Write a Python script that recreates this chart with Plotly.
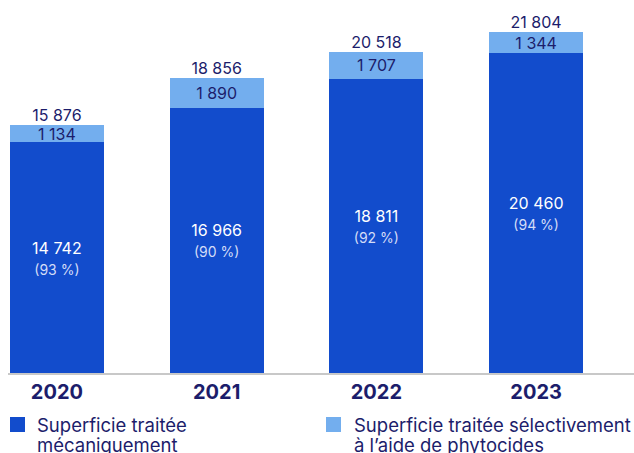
import plotly.graph_objects as go

years = ["2020", "2021", "2022", "2023"]
mecanique = [14742, 16966, 18811, 20460]
phytocides = [1134, 1890, 1707, 1344]
totaux = [15876, 18856, 20518, 21804]
pourcentages = [93, 90, 92, 94]
legend_lines = [
    ["Superficie traitée", "mécaniquement"],
    ["Superficie traitée sélectivement", "à l’aide de phytocides"],
]

DARK = "#124ccc"
LIGHT = "#73aeee"
NAVY = "#1c1d6b"
FONT = "Inter"

W, H = 634, 453
ML, MB = 8, 80
PLOT_W, PLOT_H = W - ML, H - MB

def px_x(px):
    return (px - ML) / PLOT_W

def px_y(py):
    return (PLOT_H - py) / PLOT_H

xpos = list(range(len(years)))

def fmt(v):
    return f"{v:,}".replace(",", "\u00a0")

dark_text = [f"{fmt(v)}<br><span style='font-size:14px;color:#d4dcf7'>({p}\u00a0%)</span>"
             for v, p in zip(mecanique, pourcentages)]
light_text = [fmt(v) for v in phytocides]
total_text = [fmt(v) for v in totaux]

fig = go.Figure()
fig.add_trace(go.Bar(
    x=xpos, y=mecanique, name=" ".join(legend_lines[0]),
    marker=dict(color=DARK, line=dict(width=0)), width=0.5875,
    text=dark_text, textposition="inside", insidetextanchor="middle",
    textangle=0, texttemplate="%{text}", constraintext="none",
    textfont=dict(family=FONT, size=16, color="white"),
    hoverinfo="skip",
))
fig.add_trace(go.Bar(
    x=xpos, y=phytocides, name=" ".join(legend_lines[1]),
    marker=dict(color=LIGHT, line=dict(width=0)), width=0.5875,
    text=light_text, textposition="inside", insidetextanchor="middle",
    textangle=0, texttemplate="%{text}", constraintext="none",
    textfont=dict(family=FONT, size=16, color=NAVY),
    hoverinfo="skip",
))
fig.add_trace(go.Scatter(
    x=xpos, y=totaux, mode="text", text=total_text, textposition="top center",
    textfont=dict(family=FONT, size=16, color=NAVY), showlegend=False,
    hoverinfo="skip",
))

# legend drawn as swatches + text lines (tight line spacing as in reference)
legend_items = [(10, 35, DARK, legend_lines[0]), (326, 352, LIGHT, legend_lines[1])]
for sq_x, tx, col, lines in legend_items:
    fig.add_shape(type="rect", xref="paper", yref="paper",
                  x0=px_x(sq_x), x1=px_x(sq_x + 15), y0=px_y(432), y1=px_y(417),
                  fillcolor=col, line=dict(width=0))
    for i, line in enumerate(lines):
        fig.add_annotation(xref="paper", yref="paper", x=px_x(tx), y=px_y(424.5 + 20 * i),
                           xanchor="left", yanchor="middle", showarrow=False,
                           text=line, font=dict(family=FONT, size=18.5, color=NAVY))

fig.update_layout(
    width=W, height=H,
    margin=dict(l=ML, r=0, t=0, b=MB, autoexpand=False),
    barmode="stack",
    plot_bgcolor="white", paper_bgcolor="white",
    font=dict(family=FONT, color=NAVY),
    showlegend=False,
    xaxis=dict(
        range=[-0.306, 3.6125], tickvals=xpos,
        ticktext=[f"<b>{y}</b>" for y in years],
        tickfont=dict(family=FONT, size=20, color=NAVY),
        showline=True, linecolor="#c8c8c8", linewidth=2,
        showgrid=False, zeroline=False, ticks="", fixedrange=True,
    ),
    yaxis=dict(range=[0, 23850], visible=False, fixedrange=True),
)

fig.write_html("out.html", config={"displayModeBar": False},
               post_script="document.body.style.margin='0';")
